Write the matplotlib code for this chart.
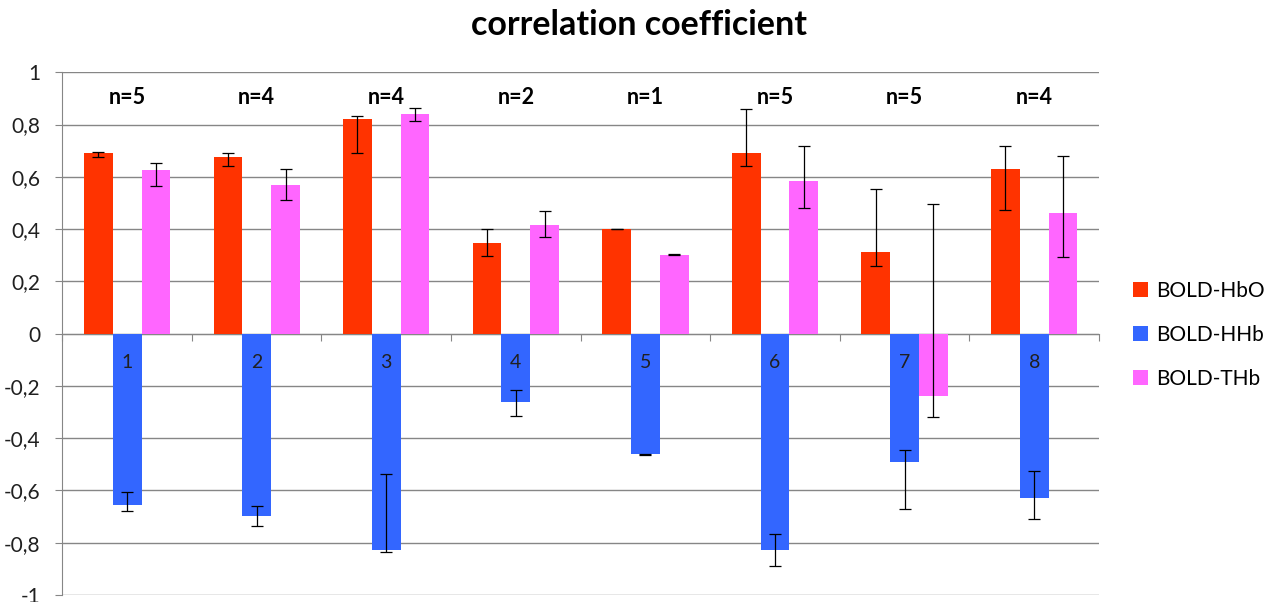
import matplotlib
matplotlib.use("Agg")
import matplotlib.pyplot as plt
import numpy as np

plt.rcParams['font.family'] = ['Lato', 'DejaVu Sans']

categories = ["1", "2", "3", "4", "5", "6", "7", "8"]
n_labels = ["n=5", "n=4", "n=4", "n=2", "n=1", "n=5", "n=5", "n=4"]
series = ["BOLD-HbO", "BOLD-HHb", "BOLD-THb"]
colors = ["#FF3300", "#3366FF", "#FF66FF"]

hbo = [0.692, 0.676, 0.822, 0.348, 0.400, 0.692, 0.313, 0.630]
hhb = [-0.656, -0.698, -0.828, -0.262, -0.461, -0.828, -0.492, -0.629]
thb = [0.627, 0.569, 0.841, 0.417, 0.302, 0.585, -0.240, 0.462]

# whisker ends (lower, upper) for each bar
hbo_lo = [0.675, 0.641, 0.690, 0.297, 0.400, 0.641, 0.259, 0.473]
hbo_hi = [0.694, 0.690, 0.832, 0.402, 0.401, 0.859, 0.553, 0.717]
hhb_lo = [-0.678, -0.735, -0.834, -0.315, -0.463, -0.888, -0.670, -0.708]
hhb_hi = [-0.605, -0.658, -0.536, -0.215, -0.461, -0.765, -0.445, -0.525]
thb_lo = [0.564, 0.511, 0.813, 0.369, 0.302, 0.480, -0.318, 0.293]
thb_hi = [0.652, 0.629, 0.865, 0.469, 0.304, 0.717, 0.496, 0.679]

yticks = [1, 0.8, 0.6, 0.4, 0.2, 0, -0.2, -0.4, -0.6, -0.8, -1]
ytick_labels = ["1", "0,8", "0,6", "0,4", "0,2", "0", "-0,2", "-0,4", "-0,6", "-0,8", "-1"]

fig = plt.figure(figsize=(12.72, 6.02), dpi=100)
ax = fig.add_axes([0.049, 0.0116, 0.815, 0.8684])

x = np.arange(1, len(categories) + 1)
w = 1 / 4.5
grid_col = "#868686"

values = [hbo, hhb, thb]
lows = [hbo_lo, hhb_lo, thb_lo]
highs = [hbo_hi, hhb_hi, thb_hi]
for i, (vals, lo, hi, col, name) in enumerate(zip(values, lows, highs, colors, series)):
    xs = x + (i - 1) * w
    v = np.array(vals)
    yerr = np.vstack([v - np.array(lo), np.array(hi) - v])
    ax.bar(xs, v, width=w, color=col, label=name, zorder=2)
    ax.errorbar(xs, v, yerr=yerr, fmt="none", ecolor="black", elinewidth=0.9,
                capsize=4, capthick=0.9, zorder=3)

ax.set_xlim(0.5, len(categories) + 0.5)
ax.set_ylim(-1, 1)
ax.set_yticks(yticks)
ax.set_yticklabels(ytick_labels, fontsize=15, color="#202020")
ax.yaxis.grid(True, color=grid_col, linewidth=1.0, zorder=0)
ax.set_axisbelow(True)

for side in ["top", "right"]:
    ax.spines[side].set_visible(False)
ax.spines["left"].set_color(grid_col)
ax.spines["bottom"].set_position(("data", 0))
ax.spines["bottom"].set_color(grid_col)
ax.spines["bottom"].set_zorder(1)
ax.tick_params(axis="y", length=5, color=grid_col, pad=11)

# category axis along zero: small ticks between groups, labels drawn over the bars
ax.set_xticks(np.arange(0.5, len(categories) + 1))
ax.set_xticklabels([])
ax.tick_params(axis="x", length=5, color=grid_col, direction="out")
for xi, lab in zip(x, categories):
    ax.annotate(lab, (xi, 0), xytext=(0, -20.5), textcoords="offset points",
                ha="center", va="center", fontsize=14, color="#202020", zorder=4)

for xi, lab in zip(x, n_labels):
    ax.text(xi, 0.905, lab, ha="center", va="center", fontsize=15.5, fontweight="bold")

fig.suptitle("correlation coefficient", x=0.502, y=0.985, fontsize=24.5, fontweight="bold")

handles, labels = ax.get_legend_handles_labels()
fig.legend(handles, labels, loc="center left", bbox_to_anchor=(0.876, 0.444),
           frameon=False, fontsize=15, handlelength=0.7, handleheight=0.7,
           handletextpad=0.4, labelspacing=1.15)

fig.savefig("out.png", dpi=100)
